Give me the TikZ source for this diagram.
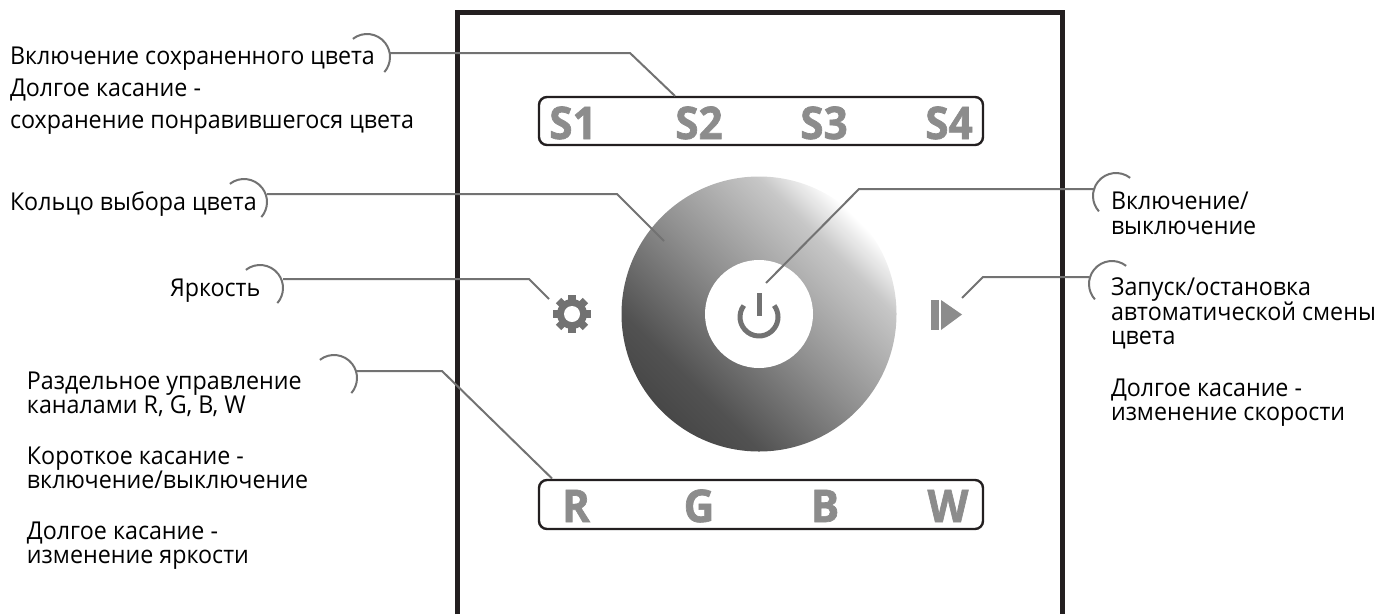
\documentclass[tikz,border=0pt]{standalone}
\usepackage{fontspec}
\setmainfont{Open Sans}[FakeStretch=0.945]
\newfontfamily\keyfont{Open Sans}[FakeStretch=0.94,BoldFeatures={FakeBold=1.5}]
\definecolor{framecol}{HTML}{231F20}
\definecolor{leadcol}{HTML}{727272}
\definecolor{keycol}{HTML}{8C8C8C}
\pgfdeclareverticalshading{wheelshade}{100bp}{color(0bp)=(black!72); color(25bp)=(black!72); color(32.5bp)=(black!68); color(50bp)=(black!44); color(67.5bp)=(black!22); color(75bp)=(white); color(100bp)=(white)}
\tikzset{
  frameline/.style={draw=framecol,line width=5pt},
  keybox/.style={draw=framecol,line width=2.4pt,rounded corners=8pt},
  leader/.style={draw=leadcol,line width=2pt},
  bracket/.style={draw=leadcol,line width=2pt},
  caption/.style={anchor=base west,inner sep=0pt,outer sep=0pt,text=black,font=\fontsize{24.6}{26}\selectfont,align=left},
  keylabel/.style={anchor=base,inner sep=0pt,text=keycol,font=\keyfont\bfseries\fontsize{45}{45}\selectfont},
}
\begin{document}
\begin{tikzpicture}[x=1pt,y=-1pt]
\useasboundingbox (0,0) rectangle (1380,614);
% frame
\draw[frameline] (457,614) -- (457,12) -- (1062,12) -- (1062,614);
% wheel
\shade[shading=wheelshade,shading angle=-45] (759,314) circle[radius=137.5pt];
\fill[white] (759,314) circle[radius=54pt];
% power icon
\draw[draw=leadcol,line width=5pt] (759,317) ++(143:19pt) arc[start angle=143,end angle=397,radius=19pt];
\draw[draw=leadcol,line width=5pt] (759,293) -- (759,316);
% key boxes
\node[keybox,minimum width=444pt,minimum height=48pt,inner sep=0pt] (sbox) at (761,121) {};
\node[keybox,minimum width=444pt,minimum height=49pt,inner sep=0pt] (cbox) at (761,504.5) {};
\node[keylabel] (s1) at (573,139) {S1};
\node[keylabel] (s2) at (699,139) {S2};
\node[keylabel] (s3) at (824,139) {S3};
\node[keylabel] (s4) at (949,139) {S4};
\node[keylabel] (kr) at (576,522) {R};
\node[keylabel] (kg) at (699,522) {G};
\node[keylabel] (kb) at (825,522) {B};
\node[keylabel] (kw) at (948,522) {W};
% gear
\coordinate (gear) at (572,314);
\foreach \a in {0,45,...,315}{
  \fill[leadcol,shift={(gear)},rotate=\a] (-3.8pt,-13pt) rectangle (3.8pt,19pt) ;
}
\fill[leadcol] (gear) circle[radius=15pt];
\fill[white] (gear) circle[radius=8pt];
% play icon
\fill[keycol] (931,300) rectangle (939,330);
\fill[keycol] (941,300) -- (962,314.5) -- (941,330) -- cycle;
% captions
\node[caption] (t1) at (10,64) {Включение сохраненного цвета};
\node[caption] (t2) at (10,96) {Долгое касание -};
\node[caption] (t3) at (10,128) {сохранение понравившегося цвета};
\node[caption] (t4) at (10,210) {Кольцо выбора цвета};
\node[caption] (t5) at (170,296) {Яркость};
\node[caption] (t6) at (27,389) {Раздельное управление};
\node[caption] (t7) at (27,413) {каналами R, G, B, W};
\node[caption] (t8) at (27,464) {Короткое касание -};
\node[caption] (t9) at (27,488) {включение/выключение};
\node[caption] (t10) at (27,539) {Долгое касание -};
\node[caption] (t11) at (27,563) {изменение яркости};
\node[caption] (t12) at (1111,209) {Включение/};
\node[caption] (t13) at (1111,234) {выключение};
\node[caption] (t14) at (1111,295) {Запуск/остановка};
\node[caption] (t15) at (1111,320) {автоматической смены};
\node[caption] (t16) at (1111,344) {цвета};
\node[caption] (t17) at (1111,396) {Долгое касание -};
\node[caption] (t18) at (1111,420) {изменение скорости};
% bracket centres
\coordinate (b1) at (367,57);
\coordinate (b2) at (244,202);
\coordinate (b3) at (260,288);
\coordinate (b4) at (334,378);
\coordinate (b5) at (1116,196);
\coordinate (b6) at (1112,284);
\draw[bracket] (b1) ++(128:23pt) arc[start angle=128,end angle=-41,radius=23pt];
\draw[bracket] (b2) ++(128:23pt) arc[start angle=128,end angle=-41,radius=23pt];
\draw[bracket] (b3) ++(128:23pt) arc[start angle=128,end angle=-41,radius=23pt];
\draw[bracket] (b4) ++(128:23pt) arc[start angle=128,end angle=-41,radius=23pt];
\draw[bracket] (b5) ++(52:23pt) arc[start angle=52,end angle=222,radius=23pt];
\draw[bracket] (b6) ++(52:23pt) arc[start angle=52,end angle=222,radius=23pt];
% leaders
\coordinate (l1s) at (390,53); \coordinate (l1m) at (630,53); \coordinate (l1e) at (675,96);
\coordinate (l2s) at (267,194); \coordinate (l2m) at (617,194); \coordinate (l2e) at (664,241);
\coordinate (l3s) at (283,279); \coordinate (l3m) at (529,279); \coordinate (l3e) at (549,299);
\coordinate (l4s) at (356,371); \coordinate (l4m) at (442,371); \coordinate (l4e) at (552,478.5);
\coordinate (l5s) at (1095,189); \coordinate (l5m) at (859,189); \coordinate (l5e) at (766,283);
\coordinate (l6s) at (1089,277); \coordinate (l6m) at (983,277); \coordinate (l6e) at (962,298);
\draw[leader] (l1s) -- (l1m) -- (l1e);
\draw[leader] (l2s) -- (l2m) -- (l2e);
\draw[leader] (l3s) -- (l3m) -- (l3e);
\draw[leader] (l4s) -- (l4m) -- (l4e);
\draw[leader] (l5s) -- (l5m) -- (l5e);
\draw[leader] (l6s) -- (l6m) -- (l6e);
\end{tikzpicture}
\end{document}
